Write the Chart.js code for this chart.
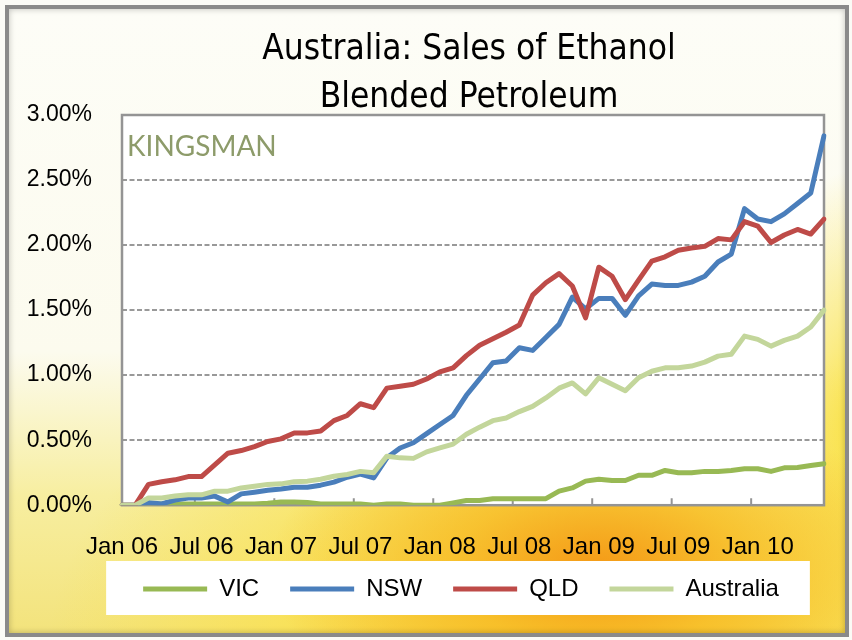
<!DOCTYPE html>
<html>
<head>
<meta charset="utf-8">
<script src="https://cdn.jsdelivr.net/npm/chart.js@4"></script>
<style>
  html, body { margin: 0; padding: 0; background: #fbfbf6; }
  #wrap { position: relative; width: 852px; height: 640px; overflow: hidden; }
  #frame {
    position: absolute; left: 5px; top: 5px; width: 836px; height: 624px;
    border: 4px solid #8a8a8a;
    background:
      radial-gradient(ellipse 330px 170px at 590px 560px, rgba(244,150,20,0.95) 0%, rgba(247,185,35,0.75) 45%, rgba(250,215,60,0) 100%),
      radial-gradient(ellipse 520px 330px at 560px 640px, rgba(249,205,45,0.95) 0%, rgba(250,225,80,0.75) 55%, rgba(252,240,150,0) 100%),
      radial-gradient(ellipse 120px 260px at 850px 420px, rgba(250,225,60,0.95) 0%, rgba(250,230,90,0) 100%),
      linear-gradient(to bottom, #fdfdf7 0%, #fcfbee 55%, #f7eea0 78%, #f3e37c 100%);
    box-shadow: inset 0 0 6px rgba(0,0,0,0.25);
  }
  canvas { position: absolute; left: 0; top: 0; }
</style>
</head>
<body>
<div id="wrap">
  <div id="frame"></div>
  <canvas id="ethanol" width="852" height="640"></canvas>
</div>
<script>
const months = [
  'Jan 06','Feb 06','Mar 06','Apr 06','May 06','Jun 06','Jul 06','Aug 06','Sep 06','Oct 06','Nov 06','Dec 06',
  'Jan 07','Feb 07','Mar 07','Apr 07','May 07','Jun 07','Jul 07','Aug 07','Sep 07','Oct 07','Nov 07','Dec 07',
  'Jan 08','Feb 08','Mar 08','Apr 08','May 08','Jun 08','Jul 08','Aug 08','Sep 08','Oct 08','Nov 08','Dec 08',
  'Jan 09','Feb 09','Mar 09','Apr 09','May 09','Jun 09','Jul 09','Aug 09','Sep 09','Oct 09','Nov 09','Dec 09',
  'Jan 10','Feb 10','Mar 10','Apr 10','May 10','Jun 10'
];

// share of petrol sales that is ethanol blended, in %
const vic = [
  0, 0, 0.01, 0.01, 0.01, 0.01, 0.01, 0.01, 0.01, 0.01, 0.01, 0.015,
  0.025, 0.025, 0.02, 0.01, 0.01, 0.01, 0.01, 0, 0.01, 0.01, 0, 0,
  0, 0.018, 0.036, 0.036, 0.05, 0.05, 0.05, 0.05, 0.05, 0.108, 0.133, 0.185,
  0.2, 0.19, 0.19, 0.23, 0.23, 0.267, 0.25, 0.25, 0.26, 0.26, 0.267, 0.28,
  0.28, 0.26, 0.287, 0.29, 0.305, 0.318
];
const nsw = [
  0, 0, 0.02, 0.01, 0.04, 0.055, 0.055, 0.07, 0.025, 0.087, 0.1, 0.115,
  0.125, 0.138, 0.138, 0.154, 0.177, 0.215, 0.24, 0.21, 0.364, 0.44, 0.48, 0.55,
  0.62, 0.69, 0.845, 0.97, 1.095, 1.108, 1.21, 1.19, 1.29, 1.39, 1.6, 1.51,
  1.59, 1.59, 1.46, 1.61, 1.7, 1.69, 1.69, 1.715, 1.76, 1.87, 1.93, 2.28,
  2.2, 2.18, 2.24, 2.32, 2.4, 2.84
];
const qld = [
  0, 0, 0.16, 0.18, 0.195, 0.22, 0.22, 0.31, 0.4, 0.42, 0.45, 0.49,
  0.51, 0.555, 0.556, 0.57, 0.65, 0.69, 0.78, 0.75, 0.9, 0.915, 0.93, 0.97,
  1.025, 1.056, 1.15, 1.23, 1.28, 1.33, 1.385, 1.615, 1.71, 1.78, 1.685, 1.44,
  1.83, 1.76, 1.58, 1.73, 1.877, 1.91, 1.96, 1.977, 1.99, 2.05, 2.04, 2.18,
  2.146, 2.02, 2.077, 2.12, 2.085, 2.2
];
const australia = [
  0, 0, 0.055, 0.056, 0.07, 0.08, 0.08, 0.108, 0.108, 0.133, 0.146, 0.16,
  0.164, 0.18, 0.185, 0.2, 0.223, 0.236, 0.26, 0.25, 0.377, 0.364, 0.36, 0.41,
  0.44, 0.47, 0.545, 0.6, 0.65, 0.67, 0.72, 0.76, 0.825, 0.9, 0.94, 0.856,
  0.98, 0.93, 0.88, 0.98, 1.03, 1.056, 1.056, 1.07, 1.1, 1.146, 1.16, 1.3,
  1.275, 1.223, 1.267, 1.3, 1.37, 1.5
];

const labelEvery = 6;
const sans = '"Liberation Sans", Arial, sans-serif';

// white plot panel, grey frame, inside tick marks and the KINGSMAN mark
const plotDecor = {
  id: 'plotDecor',
  afterLayout(chart) {
    // title and legend sit a little right of the canvas centre;
    // the legend also tucks up under the month labels
    const t = chart.titleBlock;
    const tw = t.right - t.left;
    t.left = 469 - tw / 2;
    t.right = t.left + tw;
    const lg = chart.legend;
    lg.left += 34.5;
    lg.right += 34.5;
    lg.top -= 16.2;
    lg.bottom -= 16.2;
  },
  beforeDraw(chart) {
    const { ctx, chartArea: a, legend } = chart;
    ctx.save();
    ctx.fillStyle = '#ffffff';
    ctx.fillRect(a.left, a.top, a.right - a.left, a.bottom - a.top);
    const hb = legend.legendHitBoxes;
    if (hb && hb.length) {
      const last = hb[hb.length - 1];
      const cy = hb[0].top + hb[0].height / 2;
      const x0 = hb[0].left - 37, x1 = last.left + last.width + 31;
      ctx.fillRect(x0, cy - 28, x1 - x0, 54);
    }
    ctx.restore();
  },
  beforeDatasetsDraw(chart) {
    const { ctx, chartArea: a, scales: { x } } = chart;
    ctx.save();
    ctx.strokeStyle = '#949494';
    ctx.lineWidth = 2.5;
    ctx.strokeRect(a.left, a.top, a.right - a.left, a.bottom - a.top);
    ctx.beginPath();
    for (let i = labelEvery; i < months.length; i += labelEvery) {
      const px = (x.getPixelForValue(i - 1) + x.getPixelForValue(i)) / 2;
      ctx.moveTo(px, a.bottom);
      ctx.lineTo(px, a.bottom - 7);
    }
    ctx.lineWidth = 2;
    ctx.stroke();
    ctx.fillStyle = '#8d9b6a';
    ctx.font = '28px Lato, "Noto Sans", sans-serif';
    ctx.textBaseline = 'alphabetic';
    ctx.fillText('KINGSMAN', a.left + 5, a.top + 41);
    ctx.restore();
  }
};

const line = (label, data, color, order) => ({
  label, data, order,
  borderColor: color,
  backgroundColor: color,
  borderWidth: 5,
  borderCapStyle: 'round',
  borderJoinStyle: 'round',
  pointRadius: 0,
  tension: 0
});

new Chart(document.getElementById('ethanol'), {
  type: 'line',
  data: {
    labels: months,
    datasets: [
      line('VIC', vic, '#98b954', 4),
      line('NSW', nsw, '#4a7ebb', 3),
      line('QLD', qld, '#be4b48', 2),
      line('Australia', australia, '#c3d69b', 1)
    ]
  },
  options: {
    responsive: false,
    animation: false,
    layout: { padding: { left: 20, right: 19, top: 0, bottom: 12.8 } },
    plugins: {
      title: {
        display: true,
        text: ['Australia: Sales of Ethanol', 'Blended Petroleum'],
        color: '#000',
        font: { family: '"DejaVu Sans Condensed", "DejaVu Sans", sans-serif', size: 35, weight: 'normal', lineHeight: 48 / 35 },
        padding: { top: 26, bottom: -7 }
      },
      legend: {
        position: 'bottom',
        labels: {
          usePointStyle: true,
          pointStyle: 'line',
          pointStyleWidth: 64,
          boxHeight: 5,
          padding: 31,
          color: '#000',
          font: { family: sans, size: 24 },
          sort: (a, b) => a.datasetIndex - b.datasetIndex
        }
      },
      tooltip: { enabled: false }
    },
    scales: {
      x: {
        afterFit(scale) { scale.height = 57; },
        grid: { display: false, drawTicks: false },
        border: { display: false },
        ticks: {
          autoSkip: false,
          maxRotation: 0,
          padding: 28,
          color: '#000',
          font: { family: sans, size: 24 },
          callback(value, index) {
            return index % labelEvery === 0 ? this.getLabelForValue(value) : '';
          }
        }
      },
      y: {
        min: 0,
        max: 3,
        afterFit(scale) { scale.width = 102; },
        grid: { color: '#999999', lineWidth: 2, drawTicks: false },
        border: { display: false, dash: [5, 2.5] },
        ticks: {
          stepSize: 0.5,
          padding: 30,
          color: '#000',
          font: { family: sans, size: 23 },
          callback: v => v.toFixed(2) + '%'
        }
      }
    }
  },
  plugins: [plotDecor]
});
</script>
</body>
</html>
